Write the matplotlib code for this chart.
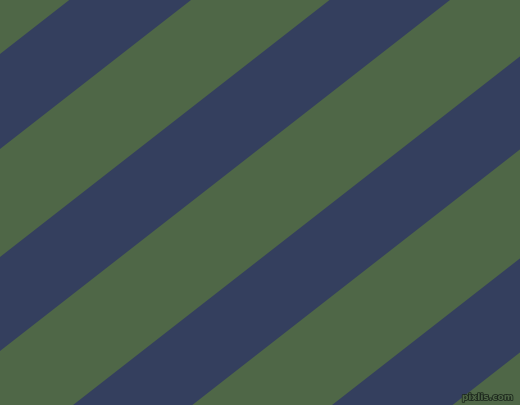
import matplotlib
matplotlib.use("Agg")
import matplotlib.pyplot as plt
import matplotlib.patheffects as pe
import numpy as np

# Stripe boundaries: intercepts (pixels at x=0) of lines y = c - slope*x
boundaries = [-54, 55, 150, 258, 352, 463, 556, 665, 759, 868]
stripe_colors = ["#4f6747", "#343f5e", "#4f6747", "#343f5e", "#4f6747",
                 "#343f5e", "#4f6747", "#343f5e", "#4f6747"]
slope = 0.78
watermark = "pixlis.com"

W, H = 520, 406
fig = plt.figure(figsize=(W / 100, H / 100), dpi=100)
fig.patch.set_facecolor(stripe_colors[0])
ax = fig.add_axes([0, 0, 1, 1])
ax.set_xlim(0, W)
ax.set_ylim(H, 0)
ax.axis("off")

x0, x1 = -20, W + 20
overlap = 2.0
for c_lo, c_hi, col in zip(boundaries[:-1], boundaries[1:], stripe_colors):
    c_hi_ext = c_hi + overlap
    xs = [x0, x1, x1, x0]
    ys = [c_lo - slope * x0, c_lo - slope * x1,
          c_hi_ext - slope * x1, c_hi_ext - slope * x0]
    ax.fill(xs, ys, color=col, linewidth=0, antialiased=True)

ax.text(513, 401, watermark, ha="right", va="baseline", fontsize=6.5,
        fontweight="bold", color="#4f6747", family="DejaVu Sans",
        path_effects=[pe.withStroke(linewidth=1.2, foreground="#1e2a1e")])

fig.savefig("out.png", dpi=100, facecolor=fig.get_facecolor())
